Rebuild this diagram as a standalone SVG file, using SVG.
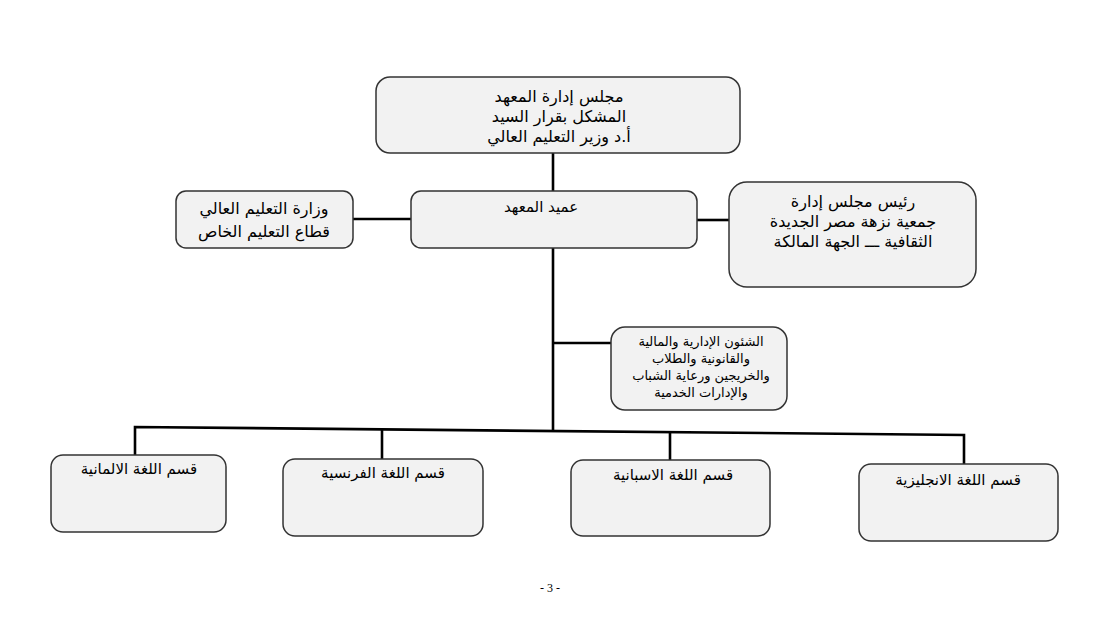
<svg xmlns="http://www.w3.org/2000/svg" width="1099" height="633" viewBox="0 0 1099 633">
<style>
.box{fill:#f2f2f2;stroke:#333;stroke-width:1.5}
.t{font-family:"DejaVu Sans","Liberation Sans",sans-serif;font-size:16px;fill:#000;text-anchor:middle}
.m{font-size:15px}
.s{font-size:13px}
.c{stroke:#000;stroke-width:2.6;fill:none}
.pg{font-family:"Liberation Serif",serif;font-size:12px;text-anchor:middle}
</style>
<rect width="1099" height="633" fill="#fff"/>
<g id="connectors">
<line class="c" x1="553" y1="153" x2="553" y2="191"/>
<line class="c" x1="353" y1="219" x2="411" y2="219"/>
<line class="c" x1="697" y1="220" x2="729" y2="220"/>
<line class="c" x1="553" y1="248" x2="553" y2="431"/>
<line class="c" x1="553" y1="343" x2="611" y2="343"/>
<polyline class="c" points="135,456 135,427 964,435 964,464"/>
<line class="c" x1="382" y1="430" x2="382" y2="459"/>
<line class="c" x1="670" y1="433" x2="670" y2="460"/>
</g>
<g id="board">
<rect class="box" x="376" y="77" width="364" height="76" rx="14"/>
<text class="t" x="559" y="102">مجلس إدارة المعهد</text>
<text class="t" x="559" y="122">المشكل بقرار السيد</text>
<text class="t" x="559" y="142">أ.د وزير التعليم العالي</text>
</g>
<g id="dean">
<rect class="box" x="411" y="191" width="286" height="57" rx="10"/>
<text class="t m" x="541" y="212">عميد المعهد</text>
</g>
<g id="ministry">
<rect class="box" x="176" y="191" width="177" height="57" rx="10"/>
<text class="t" x="264" y="214">وزارة التعليم العالي</text>
<text class="t" x="264" y="237">قطاع التعليم الخاص</text>
</g>
<g id="owner">
<rect class="box" x="729" y="182" width="247" height="105" rx="18"/>
<text class="t" x="853" y="207">رئيس مجلس إدارة</text>
<text class="t" x="853" y="227">جمعية نزهة مصر الجديدة</text>
<text class="t" x="853" y="247">الثقافية ـــ الجهة المالكة</text>
</g>
<g id="affairs">
<rect class="box" x="611" y="327" width="176" height="83" rx="14"/>
<text class="t s" x="701" y="346">الشئون الإدارية والمالية</text>
<text class="t s" x="701" y="363">والقانونية والطلاب</text>
<text class="t s" x="701" y="380">والخريجين ورعاية الشباب</text>
<text class="t s" x="701" y="397">والإدارات الخدمية</text>
</g>
<g id="german">
<rect class="box" x="51" y="455" width="175" height="77" rx="12"/>
<text class="t m" x="139" y="474">قسم اللغة الالمانية</text>
</g>
<g id="french">
<rect class="box" x="283" y="459" width="200" height="77" rx="12"/>
<text class="t m" x="383" y="478">قسم اللغة الفرنسية</text>
</g>
<g id="spanish">
<rect class="box" x="571" y="460" width="199" height="76" rx="12"/>
<text class="t m" x="673" y="480">قسم اللغة الاسبانية</text>
</g>
<g id="english">
<rect class="box" x="859" y="464" width="199" height="77" rx="12"/>
<text class="t m" x="958" y="485">قسم اللغة الانجليزية</text>
</g>
<text class="pg" x="550" y="592">- 3 -</text>
</svg>
